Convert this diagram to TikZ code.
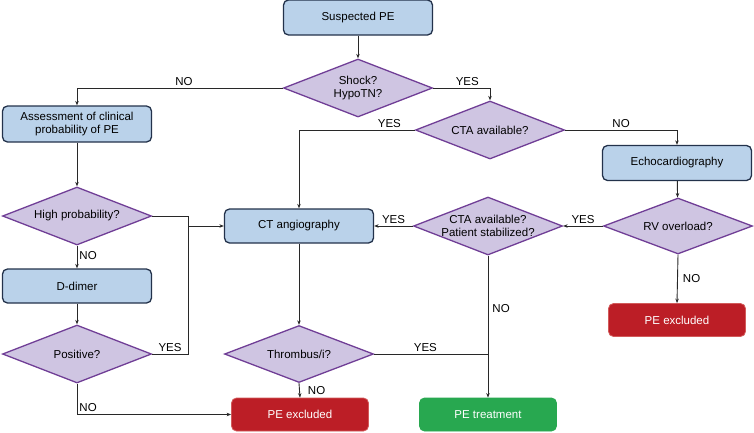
\documentclass[tikz,border=0pt]{standalone}
\usepackage{fontspec}
\setmainfont{Liberation Sans}
\usetikzlibrary{shapes.geometric,arrows.meta}
\begin{document}
\begin{tikzpicture}[x=1pt,y=-1pt,
		font=\fontsize{11.5}{13.5}\selectfont,
		every label/.style={align=center},
		stepbox/.style={draw=boxline,fill=boxblue,rounded corners=5pt,line width=1.3pt,minimum width=149pt,minimum height=35pt,align=center,inner sep=2pt},
		endbox/.style={rounded corners=5pt,line width=0.8pt,minimum width=137pt,minimum height=33pt,text=white},
		decision/.style={diamond,draw=dialine,fill=diafill,line width=1.3pt,minimum width=149pt,minimum height=58pt,inner sep=0pt},
		arr/.style={draw=linegray,line width=0.9pt,-{Stealth[length=4.5pt,width=3.5pt]}},
		link/.style={draw=linegray,line width=0.9pt},
		lbl/.style={inner sep=2pt}]
		\definecolor{boxblue}{RGB}{186,210,234}
		\definecolor{boxline}{RGB}{35,50,75}
		\definecolor{diafill}{RGB}{207,197,226}
		\definecolor{dialine}{RGB}{112,62,150}
		\definecolor{exred}{RGB}{188,30,38}
		\definecolor{exredline}{RGB}{210,90,90}
		\definecolor{trgreen}{RGB}{40,168,80}
		\definecolor{linegray}{RGB}{40,40,40}
		\useasboundingbox (0,0) rectangle (754,432);
		% boxes
		\node[stepbox] (start) at (358,17.5) {Suspected PE};
		\node[stepbox,minimum height=36pt] (assess) at (77,124) {Assessment of clinical\\probability of PE};
		\node[stepbox,minimum height=34pt] (ddimer) at (77,286) {D-dimer};
		\node[stepbox,minimum height=34pt] (cta) at (299,226) {CT angiography};
		\node[stepbox] (echo) at (677,163) {Echocardiography};
		\node[endbox,fill=exred,draw=exredline] (exclA) at (300,414.5) {PE excluded};
		\node[endbox,fill=trgreen,draw=trgreen] (treat) at (488,414.5) {PE treatment};
		\node[endbox,fill=exred,draw=exredline] (exclB) at (677,320) {PE excluded};
		% diamonds
		\node[decision,label={center:Shock?\\HypoTN?}] (shock) at (358,88) {};
		\node[decision,label={center:High probability?}] (highp) at (77,216) {};
		\node[decision,label={center:Positive?}] (positive) at (77,354) {};
		\node[decision,label={center:CTA available?}] (ctaA) at (490,130) {};
		\node[decision,minimum height=56pt,label={center:RV overload?}] (rv) at (678,226) {};
		\node[decision,label={center:CTA available?\\Patient stabilized?}] (ctaB) at (488,226) {};
		\node[decision,minimum height=57pt,label={center:Thrombus/i?}] (thromb) at (299,354) {};
		\coordinate (jn) at (188,226);
		% connectors
		\draw[arr] (start) -- (shock);
		\draw[arr] (shock.west) -| node[lbl,above,pos=0.24] {NO} (assess.north);
		\draw[arr] (shock.east) -| node[lbl,above,pos=0.3] {YES} (ctaA.north);
		\draw[arr] (assess) -- (highp);
		\draw[arr] (highp) -- node[lbl,right,pos=0.45] {NO} (ddimer);
		\draw[arr] (ddimer) -- (positive);
		\draw[link] (highp.east) -| (jn);
		\draw[link] (positive.east) -| node[lbl,above,pos=0.25] {YES} (jn);
		\draw[arr] (jn) -- (cta.west);
		\draw[arr] (positive.south) |- node[lbl,right,pos=0.38] {NO} (exclA.west);
		\draw[arr] (ctaA.west) -| node[lbl,above,pos=0.11] {YES} (cta.north);
		\draw[arr] (ctaA.east) -| node[lbl,above,pos=0.25] {NO} (echo.north);
		\draw[arr] (echo) -- (rv);
		\draw[arr] (rv.west) -- node[lbl,above] {YES} (ctaB.east);
		\draw[arr] (rv.south) -- node[lbl,right,xshift=3pt] {NO} (exclB.north);
		\draw[arr] (ctaB.west) -- node[lbl,above] {YES} (cta.east);
		\draw[arr] (ctaB.south) -- node[lbl,right,pos=0.37,xshift=2pt] {NO} (treat.north);
		\draw[arr] (cta) -- (thromb);
		\draw[link] (thromb.east) -- node[lbl,above,pos=0.45] {YES} (thromb.east -| treat.north);
		\draw[arr] (thromb.south) -- node[lbl,right,xshift=6pt] {NO} (exclA.north);
	\end{tikzpicture}
\end{document}
